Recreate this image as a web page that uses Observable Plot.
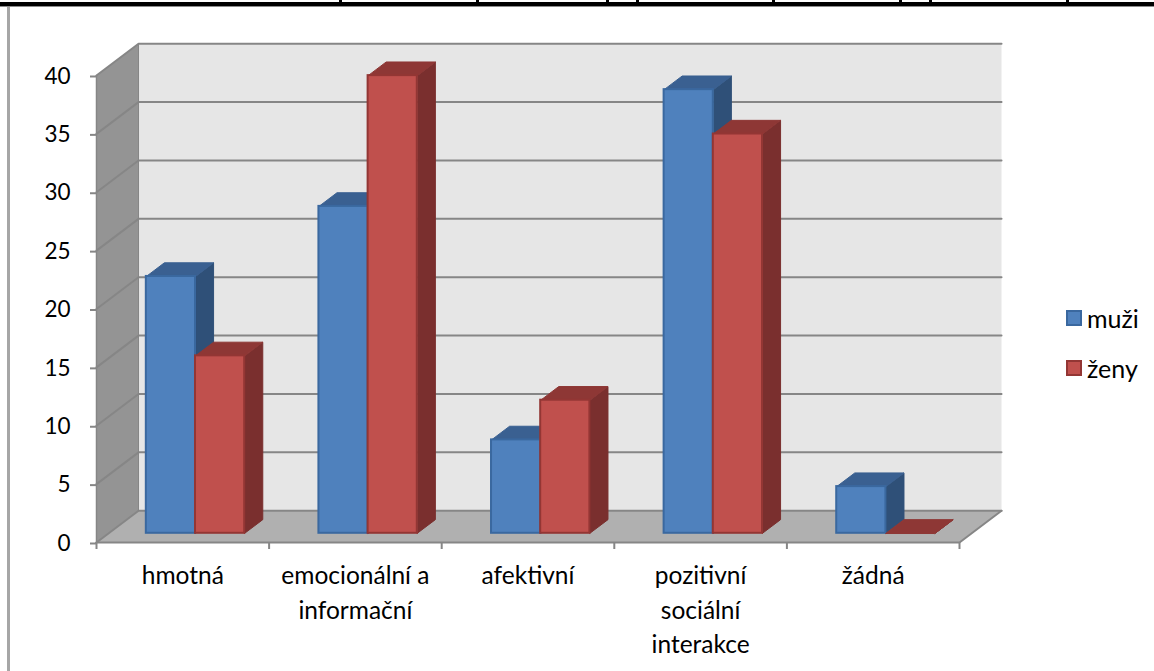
<!DOCTYPE html>
<html lang="cs">
<head>
<meta charset="utf-8">
<script src="https://cdn.jsdelivr.net/npm/d3@7"></script>
<script src="https://cdn.jsdelivr.net/npm/@observablehq/plot@0.6"></script>
<style>
  html, body { margin: 0; padding: 0; background: #fff; }
  #page { position: relative; width: 1154px; height: 671px; overflow: hidden; font-family: Lato, sans-serif; }
  #page svg { position: absolute; left: 0; top: 0; background: transparent; }
  .rule-top { position: absolute; left: 0; right: 0; top: 2px; height: 4px; background: #000; border-bottom: 1px solid #8c8c8c; }
  .rule-left { position: absolute; left: 7px; top: 7px; bottom: 0; width: 3px; background: #a6a6a6; }
  .stub { position: absolute; top: 0; width: 3px; height: 3px; background: #000; }
  .legend { position: absolute; left: 1066px; top: 304px; font-size: 25px; color: #000; }
  .legend div { display: flex; align-items: center; height: 28px; margin-bottom: 22px; }
  .legend i { display: block; box-sizing: border-box; width: 16px; height: 16px; margin-right: 5px; border: 2px solid; }
</style>
</head>
<body>
<div id="page">
  <div class="rule-top"></div>
  <div class="rule-left"></div>
</div>
<script>
// Druhy opory podle pohlaví
const categories = ["hmotná", "emocionální a\ninformační", "afektivní", "pozitivní\nsociální\ninterakce", "žádná"];
const muzi = [22, 28, 8, 38, 4];
const zeny = [15.2, 39.2, 11.4, 34.2, 0];
const valueTicks = [0, 5, 10, 15, 20, 25, 30, 35, 40];
const stubPositions = [339, 476, 606, 636, 772, 899, 929, 1066];

const colors = {
  muzi: {front: "#4f81bd", edge: "#3a689f", side: "#2f5078", top: "#3a6091"},
  zeny: {front: "#c0504d", edge: "#933634", side: "#7a2f2e", top: "#8e3735"}
};

// Oblique projection: a depth of 1 shifts a point right and up, in data units.
const depthX = 0.2435;
const depthY = 2.72;
const project = (x, v, z) => ({x: x + z * depthX, y: v + z * depthY});

const barWidth = 0.285;
const zFront = 0.29;
const zBack = 0.72;
const maxValue = 40;
const categoryCount = categories.length;

const poly = (pts, fill, stroke = "none", strokeWidth = 0) =>
  Plot.line(pts, {x: "x", y: "y", fill, stroke, strokeWidth, curve: "linear-closed"});

function bar(x0, value, c) {
  const x1 = x0 + barWidth;
  const f = project(x0, 0, zFront);
  const g = project(x1, value, zFront);
  return [
    poly([project(x1, 0, zFront), project(x1, 0, zBack), project(x1, value, zBack), project(x1, value, zFront)], c.side, c.side, 1),
    poly([project(x0, value, zFront), project(x0, value, zBack), project(x1, value, zBack), project(x1, value, zFront)], c.top, c.top, 1),
    value > 0
      ? Plot.rect([{}], {x1: f.x, x2: g.x, y1: f.y, y2: g.y, fill: c.front, stroke: c.edge, strokeWidth: 2, inset: 0})
      : null
  ];
}

const gridLine = v => Plot.line([project(0, v, 0), project(0, v, 1), project(categoryCount, v, 1)],
  {x: "x", y: "y", stroke: "#868686", strokeWidth: 2});

const chart = Plot.plot({
  width: 1154,
  height: 671,
  marginLeft: 96,
  marginRight: 195,
  marginTop: 75,
  marginBottom: 129,
  x: {type: "linear", domain: [0, categoryCount]},
  y: {type: "linear", domain: [0, maxValue]},
  style: {background: "transparent", overflow: "visible"},
  marks: [
    // walls and floor
    poly([project(0, 0, 1), project(categoryCount, 0, 1), project(categoryCount, maxValue, 1), project(0, maxValue, 1)], "#e6e6e6"),
    poly([project(0, 0, 0), project(0, 0, 1), project(0, maxValue, 1), project(0, maxValue, 0)], "#949494"),
    poly([project(0, 0, 0), project(0, 0, 1), project(categoryCount, 0, 1), project(categoryCount, 0, 0)], "#b0b0b0"),
    valueTicks.map(gridLine),
    Plot.line([project(0, 0, 1), project(0, maxValue, 1)], {x: "x", y: "y", stroke: "#868686", strokeWidth: 1}),
    Plot.line([project(0, 0, 0), project(categoryCount, 0, 0), project(categoryCount, 0, 1)], {x: "x", y: "y", stroke: "#868686", strokeWidth: 2}),
    Plot.line([project(0, 0, 0), project(0, maxValue, 0)], {x: "x", y: "y", stroke: "#868686", strokeWidth: 1.5}),
    // bars
    categories.map((_, i) => {
      const left = i + 0.503 - barWidth;
      return [bar(left, muzi[i], colors.muzi), bar(left + barWidth, zeny[i], colors.zeny)];
    }),
    // axes
    Plot.axisY({
      ticks: valueTicks, tickSize: 6, tickPadding: 20, fontSize: 22.5, label: null, dy: 1,
      stroke: "#868686", strokeWidth: 2, color: "#000", fontFamily: "Lato, sans-serif"
    }),
    Plot.axisX({
      ticks: d3.range(categoryCount + 1), tickSize: 7, tickFormat: () => "", label: null,
      stroke: "#868686", strokeWidth: 2
    }),
    Plot.axisX({
      ticks: categories.map((_, i) => i + 0.5), tickSize: 0, tickPadding: 17, label: null,
      tickFormat: d => categories[d - 0.5], lineHeight: 1.41, fontSize: 24.5,
      fontFamily: "Lato, sans-serif", color: "#000", textOverflow: null, lineWidth: Infinity
    })
  ]
});

const page = document.getElementById("page");
page.appendChild(chart);

for (const x of stubPositions) {
  const s = document.createElement("div");
  s.className = "stub";
  s.style.left = x + "px";
  page.appendChild(s);
}

const legend = document.createElement("div");
legend.className = "legend";
for (const [name, c] of [["muži", colors.muzi], ["ženy", colors.zeny]]) {
  const row = document.createElement("div");
  const sw = document.createElement("i");
  sw.style.background = c.front;
  sw.style.borderColor = c.edge;
  row.appendChild(sw);
  row.appendChild(document.createTextNode(name));
  legend.appendChild(row);
}
page.appendChild(legend);
</script>
</body>
</html>
